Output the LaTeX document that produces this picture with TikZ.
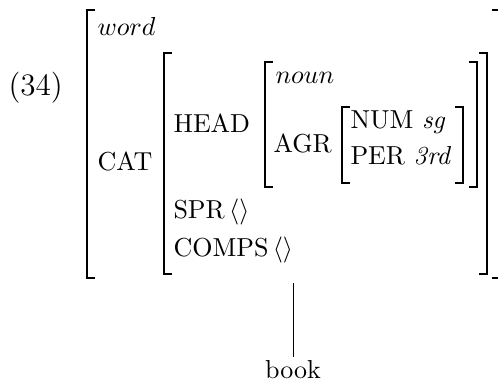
\documentclass[tikz,border=0pt]{standalone}
\usepackage{tikz}

\tikzset{
  brak/.style={line width=0.75pt},
  feat/.style={anchor=base west, inner sep=0pt},
}

% square brackets of a feature matrix: x, top y, bottom y
\newcommand{\lbrak}[3]{\draw[brak] ({#1+8},#2) -- (#1,#2) -- (#1,#3) -- ({#1+8},#3);}
\newcommand{\rbrak}[3]{\draw[brak] ({#1-8},#2) -- (#1,#2) -- (#1,#3) -- ({#1-8},#3);}

\begin{document}
\begin{tikzpicture}[x=0.3846pt,y=-0.3846pt]
\useasboundingbox (0,0) rectangle (498,385);

\node[feat, font=\large] (exno) at (8,95) {(34)};

% word
\lbrak{87}{10}{278}
\rbrak{500}{10}{278}
\node[feat] (sort) at (97,35) {$word$};
\node[feat] (cat) at (97,170) {CAT};

% CAT value
\lbrak{164}{53}{274}
\rbrak{487}{53}{274}
\node[feat] (head) at (173,132) {HEAD};
\node[feat] (spr) at (173,218) {SPR\,$\langle\rangle$};
\node[feat] (comps) at (173,256) {COMPS\,$\langle\rangle$};

% HEAD value
\lbrak{265}{62}{187}
\rbrak{477}{62}{187}
\node[feat] (pos) at (275,83) {$noun$};
\node[feat] (agr) at (273,152) {AGR};

% AGR value
\lbrak{342}{107}{183}
\rbrak{463}{107}{183}
\node[feat] (num) at (350,128) {NUM \textit{sg}};
\node[feat] (per) at (350,164) {PER \textit{3rd}};

% the word below
\coordinate (root) at (293,283);
\node[anchor=base, inner sep=1pt] (book) at (293,378) {book};
\draw[line width=0.25pt] (root) -- (book.north);

\end{tikzpicture}
\end{document}
